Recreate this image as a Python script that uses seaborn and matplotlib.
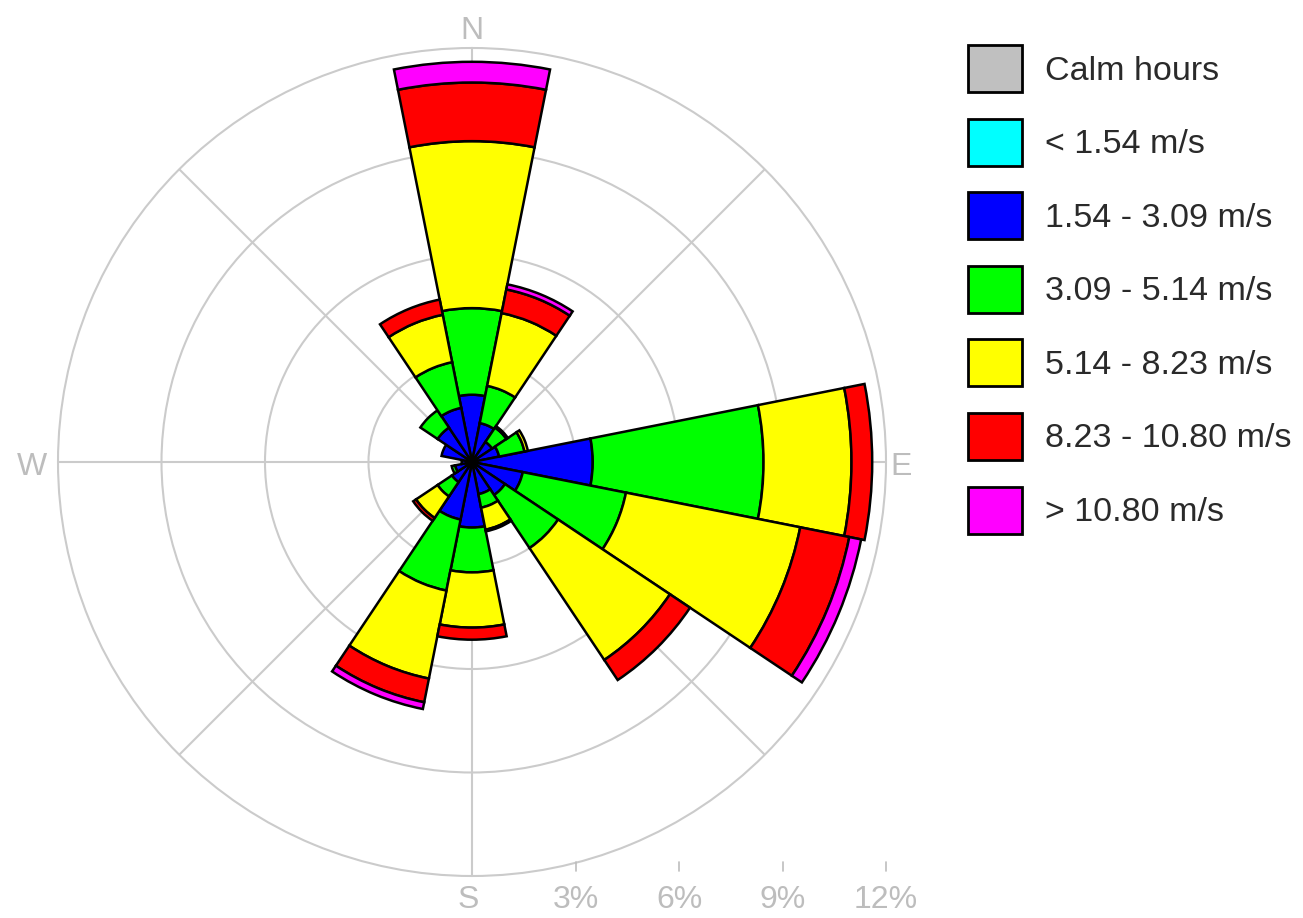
import matplotlib
matplotlib.use("Agg")
import numpy as np
import matplotlib.pyplot as plt
from matplotlib.patches import Patch
import seaborn as sns

# ---- data: wind frequency (% of hours) per direction and speed class ----
directions = ["N", "NNE", "NE", "ENE", "E", "ESE", "SE", "SSE",
              "S", "SSW", "SW", "WSW", "W", "WNW", "NW", "NNW"]
speed_classes = ["Calm hours", "< 1.54 m/s", "1.54 - 3.09 m/s", "3.09 - 5.14 m/s",
                 "5.14 - 8.23 m/s", "8.23 - 10.80 m/s", "> 10.80 m/s"]
class_colors = ["#c0c0c0", "#00ffff", "#0000ff", "#00ff00",
                "#ffff00", "#ff0000", "#ff00ff"]

calm = [0, 0, 0, 0, 0, 0, 0, 0, 0, 0, 0, 0, 0, 0, 0, 0]
below_1_54 = [0, 0, 0, 0, 0, 0, 0, 0, 0, 0, 0, 0, 0, 0, 0, 0]
from_1_54 = [1.95, 1.15, 0.70, 0.80, 3.50, 1.50, 1.15, 0.95,
             1.90, 1.70, 0.70, 0.50, 0.30, 0.90, 1.20, 1.60]
from_3_09 = [2.51, 1.10, 0.50, 0.75, 4.95, 3.05, 1.85, 0.40,
             1.30, 2.10, 0.50, 0.10, 0.00, 0.00, 0.60, 1.35]
from_5_14 = [4.84, 2.15, 0.05, 0.10, 2.55, 5.15, 3.90, 0.65,
             1.60, 2.60, 0.75, 0.00, 0.00, 0.00, 0.00, 1.40]
from_8_23 = [1.70, 0.70, 0.00, 0.00, 0.60, 1.45, 0.70, 0.05,
             0.35, 0.70, 0.10, 0.00, 0.00, 0.00, 0.00, 0.45]
above_10_80 = [0.60, 0.15, 0.00, 0.00, 0.00, 0.35, 0.00, 0.00,
               0.00, 0.20, 0.00, 0.00, 0.00, 0.00, 0.00, 0.00]

pct_ticks = [3, 6, 9, 12]
pct_labels = ["3%", "6%", "9%", "12%"]
compass_labels = ["N", "E", "S", "W"]

series = [calm, below_1_54, from_1_54, from_3_09, from_5_14, from_8_23, above_10_80]

# ---- style ----
sns.set_style("white")
plt.rcParams["font.family"] = ["Liberation Sans", "DejaVu Sans"]

W, H = 1303, 918
cx, cy, R = 472, 462, 414          # centre and outer radius in pixels
rect = [(cx - R) / W, (H - cy - R) / H, 2 * R / W, 2 * R / H]

fig = plt.figure(figsize=(W / 100, H / 100), dpi=100)
fig.patch.set_facecolor("white")

ax = fig.add_axes(rect, projection="polar")
ax.set_theta_zero_location("N")
ax.set_theta_direction(-1)
ax.set_ylim(0, pct_ticks[-1])

grid_col = "#cbcbcb"
ax.set_rgrids(pct_ticks[:-1], labels=[""] * (len(pct_ticks) - 1))
ax.set_thetagrids(np.arange(0, 360, 45), labels=[""] * 8)
ax.grid(True, color=grid_col, linewidth=1.5)
ax.spines["polar"].set_color(grid_col)
ax.spines["polar"].set_linewidth(1.5)
ax.set_axisbelow(True)
ax.set_facecolor("white")

theta = np.deg2rad(np.arange(len(directions)) * 360 / len(directions))
width = 2 * np.pi / len(directions)

bottom = np.zeros(len(directions))
for vals, col in zip(series, class_colors):
    v = np.asarray(vals, dtype=float)
    m = v > 0
    if m.any():
        ax.bar(theta[m], v[m], width=width, bottom=bottom[m], color=col,
               edgecolor="black", linewidth=1.8, align="center", zorder=3)
    bottom += v

# ---- compass and percentage labels on a cartesian overlay ----
ov = fig.add_axes(rect, frameon=False)
ov.set_xlim(-12, 12)
ov.set_ylim(-12, 12)
ov.set_axis_off()
lab_col = "#bdbdbd"
compass_pos = [(0, 12.6), (12.45, -0.05), (-0.1, -12.6), (-12.75, -0.05)]
for lab, (x, y) in zip(compass_labels, compass_pos):
    ov.text(x, y, lab, ha="center", va="center_baseline", fontsize=23,
            color=lab_col, clip_on=False)
for t, lab in zip(pct_ticks, pct_labels):
    ov.plot([t, t], [-11.6, -11.85], color=lab_col, lw=1.2, clip_on=False)
    ov.text(t, -12.6, lab, ha="center", va="center_baseline", fontsize=23,
            color=lab_col, clip_on=False)

# ---- legend ----
handles = [Patch(facecolor=c, edgecolor="black", linewidth=2) for c in class_colors]
fig.legend(handles, speed_classes, loc="upper left",
           bbox_to_anchor=(968 / W, 1 - 45 / H), frameon=False, fontsize=24.5,
           handlelength=1.59, handleheight=1.75, handletextpad=0.68,
           labelspacing=0.78, borderpad=0, borderaxespad=0, labelcolor="#2a2a2a")

fig.savefig("out.png", dpi=100, facecolor="white")
